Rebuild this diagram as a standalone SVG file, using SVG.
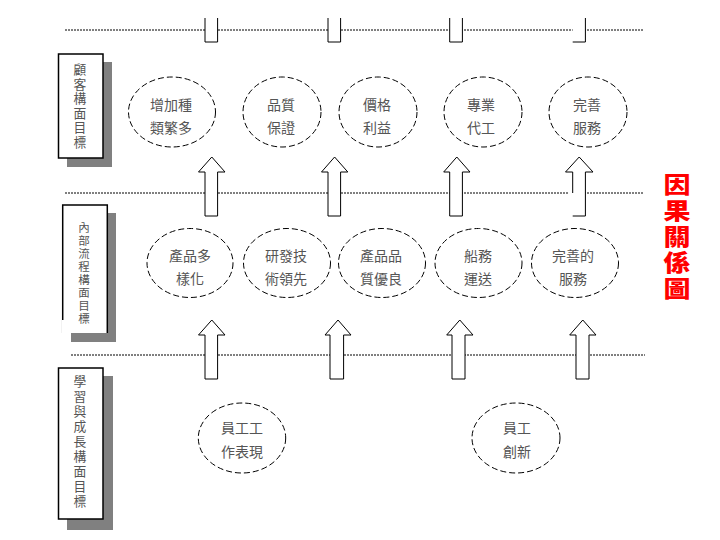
<svg xmlns="http://www.w3.org/2000/svg" width="720" height="540" viewBox="0 0 720 540">
<style>
.bg{fill:#fff}
.dl{stroke:#000;stroke-width:1;stroke-dasharray:2 1;fill:none}
.ov{fill:#fff;stroke:#000;stroke-width:1;stroke-dasharray:6 3}
.t{font-family:"Noto Sans CJK TC","Noto Sans CJK SC",sans-serif;font-size:14px;fill:#555;text-anchor:middle}
.bt{font-family:"Liberation Sans","Noto Sans CJK TC","Noto Sans CJK SC",sans-serif;font-size:12.8px;fill:#555;text-anchor:middle}
.bs{font-size:11.5px}
.box{fill:#fff;stroke:#000;stroke-width:1.5}
.sh{fill:#808080}
.ar{fill:#fff;stroke:#000;stroke-width:1}
.red{font-family:"Liberation Sans","Noto Sans CJK TC","Noto Sans CJK SC",sans-serif;font-size:22.5px;font-weight:900;fill:#f00;text-anchor:middle}
</style>
<rect class="bg" width="720" height="540"/>
<g id="connectors">
<line class="dl" x1="65" y1="30" x2="643" y2="30"/>
<line class="dl" x1="65" y1="193" x2="643" y2="193"/>
<line class="dl" x1="71" y1="355" x2="645" y2="355"/>
<rect x="205" y="18" width="12.6" height="24" fill="#fff"/>
<path class="ar" d="M205,18V42H217.6V18"/>
<rect x="328" y="18" width="12.6" height="24" fill="#fff"/>
<path class="ar" d="M328,18V42H340.6V18"/>
<rect x="449.7" y="18" width="12.7" height="24" fill="#fff"/>
<path class="ar" d="M449.7,18V42H462.4V18"/>
<rect x="572.7" y="18" width="12.7" height="24" fill="#fff"/>
<path class="ar" d="M572.7,42H585.4V18"/>
<polygon class="ar" points="211.8,157 225,172 217.6,172 217.6,216 205,216 205,172 198.5,172"/>
<polygon class="ar" points="334.6,157 347.8,172 340.6,172 340.6,216 328,216 328,172 321.5,172"/>
<polygon class="ar" points="456.8,157 470,172 462.4,172 462.4,216 449.7,216 449.7,172 443.7,172"/>
<rect x="572.7" y="172" width="12.7" height="44" fill="#fff"/>
<path class="ar" d="M565.5,172L579.2,157L593,172H585.4V216H572.7M572.7,193V172H565.5" fill="none"/>
<polygon class="ar" points="211.8,320 225,335 217.6,335 217.6,379 205,379 205,335 198.5,335"/>
<polygon class="ar" points="338,320 351,335 343.6,335 343.6,379 330,379 330,335 325,335"/>
<polygon class="ar" points="459.8,320 473,335 465,335 465,379 452,379 452,335 446.7,335"/>
<polygon class="ar" points="582.8,320 596,335 589,335 589,379 576,379 576,335 569.7,335"/>
</g>
<g id="box-customer">
<rect class="sh" x="67" y="62" width="45" height="105"/>
<rect class="box" x="58.5" y="54" width="44.5" height="104"/>
<text class="bt" x="80" y="74">顧</text>
<text class="bt" x="80" y="88.5">客</text>
<text class="bt" x="80" y="103">構</text>
<text class="bt" x="80" y="117.5">面</text>
<text class="bt" x="80" y="132">目</text>
<text class="bt" x="80" y="146.5">標</text>
</g>
<g id="box-internal">
<rect class="sh" x="71" y="213" width="45" height="129"/>
<path fill="#fff" stroke="#000" stroke-width="1.5" d="M62.7,333V205H107.3V333"/>
<rect x="62" y="320" width="9" height="13" fill="#fff"/>
<text class="bt bs" x="84" y="232">內</text>
<text class="bt bs" x="84" y="245">部</text>
<text class="bt bs" x="84" y="258">流</text>
<text class="bt bs" x="84" y="271">程</text>
<text class="bt bs" x="84" y="284">構</text>
<text class="bt bs" x="84" y="297">面</text>
<text class="bt bs" x="84" y="310">目</text>
<text class="bt bs" x="84" y="323">標</text>
</g>
<g id="box-learning">
<rect class="sh" x="67" y="376" width="46" height="154"/>
<rect class="box" x="58.5" y="368" width="44.5" height="151"/>
<text class="bt" x="80" y="386">學</text>
<text class="bt" x="80" y="401">習</text>
<text class="bt" x="80" y="416">與</text>
<text class="bt" x="80" y="431">成</text>
<text class="bt" x="80" y="446">長</text>
<text class="bt" x="80" y="461">構</text>
<text class="bt" x="80" y="476">面</text>
<text class="bt" x="80" y="491">目</text>
<text class="bt" x="80" y="506">標</text>
</g>
<g id="c1"><ellipse class="ov" cx="172" cy="112" rx="43.5" ry="35"/><text class="t" x="171" y="110">增加種</text><text class="t" x="171" y="133">類繁多</text></g>
<g id="c2"><ellipse class="ov" cx="282" cy="112" rx="39" ry="35"/><text class="t" x="281" y="110">品質</text><text class="t" x="281" y="133">保證</text></g>
<g id="c3"><ellipse class="ov" cx="378" cy="112" rx="39" ry="35"/><text class="t" x="377" y="110">價格</text><text class="t" x="377" y="133">利益</text></g>
<g id="c4"><ellipse class="ov" cx="483" cy="112" rx="39" ry="35"/><text class="t" x="481" y="110">專業</text><text class="t" x="481" y="133">代工</text></g>
<g id="c5"><ellipse class="ov" cx="588" cy="112" rx="39" ry="35"/><text class="t" x="587" y="110">完善</text><text class="t" x="587" y="133">服務</text></g>
<g id="i1"><ellipse class="ov" cx="190" cy="263" rx="43" ry="34.5"/><text class="t" x="190" y="261">產品多</text><text class="t" x="190" y="284">樣化</text></g>
<g id="i2"><ellipse class="ov" cx="287" cy="263" rx="43.5" ry="34.5"/><text class="t" x="286" y="261">研發技</text><text class="t" x="286" y="284">術領先</text></g>
<g id="i3"><ellipse class="ov" cx="382" cy="263" rx="43.5" ry="34.5"/><text class="t" x="381" y="261">產品品</text><text class="t" x="381" y="284">質優良</text></g>
<g id="i4"><ellipse class="ov" cx="478.5" cy="263" rx="43.5" ry="34.5"/><text class="t" x="478" y="261">船務</text><text class="t" x="478" y="284">運送</text></g>
<g id="i5"><ellipse class="ov" cx="575" cy="263" rx="43.5" ry="34.5"/><text class="t" x="573" y="261">完善的</text><text class="t" x="573" y="284">服務</text></g>
<g id="l1"><ellipse class="ov" cx="242" cy="438" rx="43.7" ry="35"/><text class="t" x="242" y="433">員工工</text><text class="t" x="242" y="457">作表現</text></g>
<g id="l2"><ellipse class="ov" cx="516" cy="438" rx="44" ry="35"/><text class="t" x="517" y="433">員工</text><text class="t" x="517" y="457">創新</text></g>
<g id="title" transform="translate(677,0) scale(1.2,1)">
<text class="red" x="0" y="193">因</text>
<text class="red" x="0" y="219">果</text>
<text class="red" x="0" y="245">關</text>
<text class="red" x="0" y="271">係</text>
<text class="red" x="0" y="297">圖</text>
</g>
</svg>
